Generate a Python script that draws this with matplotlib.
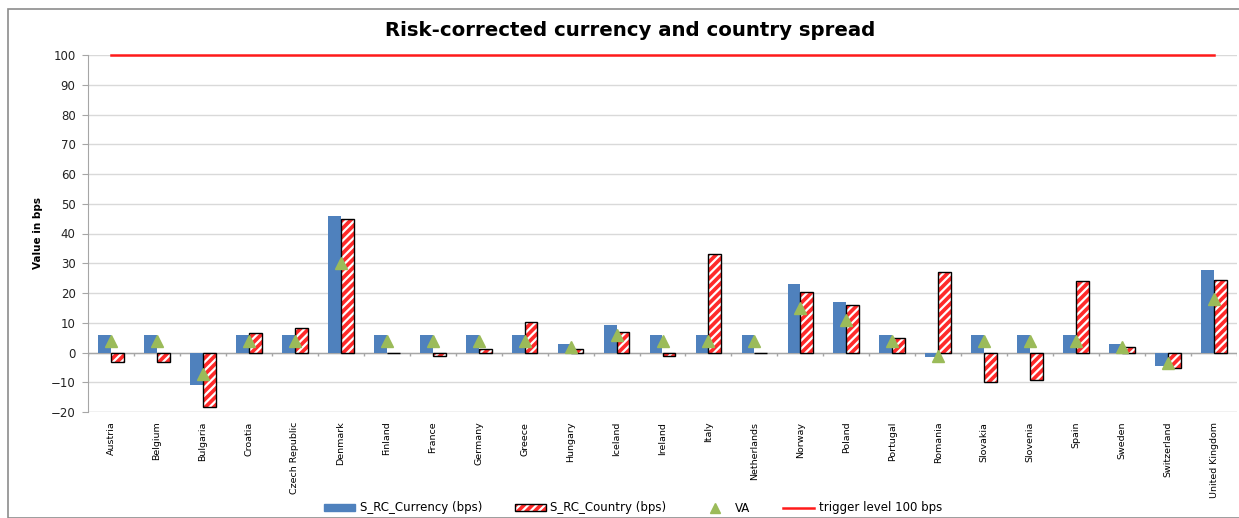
import numpy as np
import matplotlib
matplotlib.use("Agg")
import matplotlib.pyplot as plt
from matplotlib.patches import Rectangle

countries = ["Austria", "Belgium", "Bulgaria", "Croatia", "Czech Republic", "Denmark",
             "Finland", "France", "Germany", "Greece", "Hungary", "Iceland", "Ireland",
             "Italy", "Netherlands", "Norway", "Poland", "Portugal", "Romania", "Slovakia",
             "Slovenia", "Spain", "Sweden", "Switzerland", "United Kingdom"]
currency = [6, 6, -11, 6, 6, 46, 6, 6, 6, 6, 3, 9.2, 6, 6, 6, 23, 17, 6, -1.6, 6, 6, 6, 3, -4.7, 27.7]
country = [-3.2, -3.2, -18.4, 6.7, 8.3, 45, -0.3, -1.3, 1.3, 10.4, 1.3, 6.9, -1.1, 33.2, -0.3,
           20.4, 16, 4.8, 27.2, -10, -9.2, 24, 1.8, -5.3, 24.5]
va = [4, 4, -7.2, 4, 4, 30, 4, 4, 4, 4, 1.8, 5.9, 4, 4, 4, 15, 10.8, 4, -1.3, 4, 4, 4, 2, -3.4, 18]
trigger = 100

fig = plt.figure(figsize=(12.39, 5.18), dpi=100)
fig.patches.append(Rectangle((8/1239, 0), 1.0, 1 - 9/518, transform=fig.transFigure,
                             fill=False, edgecolor="#8c8c8c", linewidth=1.2))
ax = fig.add_axes([88/1239, 1 - 412/518, (1237 - 88)/1239, (412 - 55)/518])

x = np.arange(len(countries))
w = 0.28
plt.rcParams["hatch.linewidth"] = 1.6
ax.bar(x - w/2, currency, w, color="#4f81bd", zorder=3)
ax.bar(x + w/2, country, w, color="#ff2a2a", edgecolor="white", hatch="////", linewidth=0, zorder=3)
ax.bar(x + w/2, country, w, fill=False, edgecolor="black", linewidth=1.0, zorder=4)
ax.plot(x, va, "^", color="#9bbb59", markersize=9, linestyle="none", zorder=5)
ax.plot([x[0], x[-1]], [trigger, trigger], color="#ff1a1a", linewidth=1.8, zorder=6, clip_on=False)

ax.set_xlim(-0.5, len(countries) - 0.5)
ax.set_ylim(-20, 100)
ax.set_yticks(np.arange(-20, 101, 10))
ax.yaxis.grid(True, color="#d9d9d9", linewidth=1)
ax.set_axisbelow(True)
for s in ["top", "right", "bottom"]:
    ax.spines[s].set_visible(False)
ax.spines["left"].set_color("#a6a6a6")
ax.tick_params(axis="y", colors="#a6a6a6", labelcolor="#222222", labelsize=8.5, length=4, pad=5)
ax.axhline(0, color="#a6a6a6", linewidth=1, zorder=2)
ax.axhline(-20, color="#d9d9d9", linewidth=1, zorder=2)
ax.vlines(np.arange(len(countries) + 1) - 0.5, -1.2, 0, color="#a6a6a6", linewidth=1, zorder=2)
ax.set_xticks(x)
ax.set_xticklabels(countries, rotation=90, fontsize=6.8)
ax.tick_params(axis="x", length=0, pad=7)
fig.text(38/1239, 1 - 233/518, "Value in bps", rotation=90, ha="center", va="center",
         fontsize=7.5, fontweight="bold")

fig.text(0.5085, 1 - 30/518, "Risk-corrected currency and country spread", ha="center", va="center",
         fontsize=14.2, fontweight="bold")

h1 = Rectangle((0, 0), 1, 1, color="#4f81bd")
h2 = Rectangle((0, 0), 1, 1, facecolor="#ff2a2a", edgecolor="white", hatch="////", linewidth=0)
h2b = Rectangle((0, 0), 1, 1, fill=False, edgecolor="black", linewidth=1.0)
h3, = ax.plot([], [], "^", color="#9bbb59", markersize=7)
h4, = ax.plot([], [], color="#ff1a1a", linewidth=1.8)
fig.legend([h1, (h2, h2b), h3, h4],
           ["S_RC_Currency (bps)", "S_RC_Country (bps)", "VA", "trigger level 100 bps"],
           loc="center", bbox_to_anchor=(0.511, 1 - 508/518), ncol=4, frameon=False, fontsize=8.5,
           handlelength=2.6, handleheight=0.6, handletextpad=0.4, columnspacing=2.8)

fig.savefig("out.png", dpi=100)
